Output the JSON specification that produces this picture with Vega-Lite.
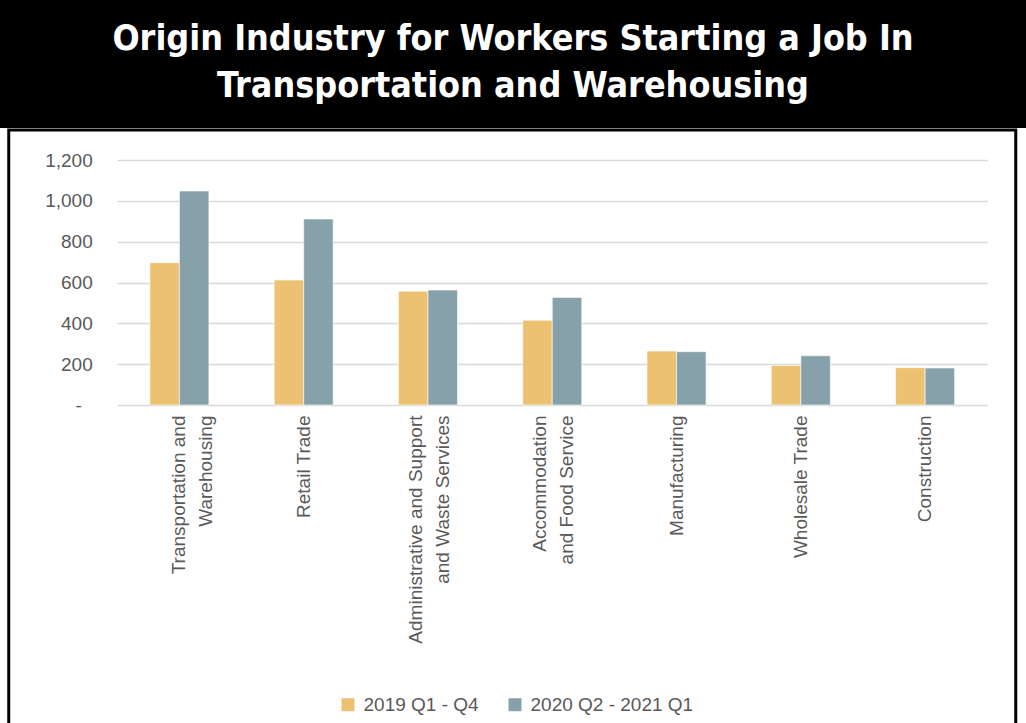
{
  "$schema": "https://vega.github.io/schema/vega-lite/v6.json",
  "background": "white",
  "padding": 0,
  "autosize": {"type": "pad"},
  "spacing": 0,
  "center": true,
  "config": {"view": {"stroke": null}, "font": "Liberation Sans"},
  "vconcat": [
    {
      "width": 1026,
      "height": 128,
      "view": {"fill": "black", "stroke": null},
      "data": {"values": [{}]},
      "mark": {
        "type": "text",
        "text": ["Origin Industry for Workers Starting a Job In", "Transportation and Warehousing"],
        "font": "DejaVu Sans Condensed",
        "fontWeight": "bold",
        "fontSize": 35.6,
        "lineHeight": 47,
        "color": "white",
        "align": "center",
        "baseline": "alphabetic",
        "dy": -14
      },
      "encoding": {}
    },
    {
      "width": 1007,
      "height": 600,
      "view": {"fill": "white", "stroke": "black", "strokeWidth": 3},
      "data": {
        "values": [
          {"industry": "Transportation and Warehousing", "period": "2019 Q1 - Q4", "workers": 697},
          {"industry": "Transportation and Warehousing", "period": "2020 Q2 - 2021 Q1", "workers": 1048},
          {"industry": "Retail Trade", "period": "2019 Q1 - Q4", "workers": 612},
          {"industry": "Retail Trade", "period": "2020 Q2 - 2021 Q1", "workers": 911},
          {"industry": "Administrative and Support and Waste Services", "period": "2019 Q1 - Q4", "workers": 557},
          {"industry": "Administrative and Support and Waste Services", "period": "2020 Q2 - 2021 Q1", "workers": 563},
          {"industry": "Accommodation and Food Service", "period": "2019 Q1 - Q4", "workers": 415},
          {"industry": "Accommodation and Food Service", "period": "2020 Q2 - 2021 Q1", "workers": 527},
          {"industry": "Manufacturing", "period": "2019 Q1 - Q4", "workers": 264},
          {"industry": "Manufacturing", "period": "2020 Q2 - 2021 Q1", "workers": 261},
          {"industry": "Wholesale Trade", "period": "2019 Q1 - Q4", "workers": 194},
          {"industry": "Wholesale Trade", "period": "2020 Q2 - 2021 Q1", "workers": 241},
          {"industry": "Construction", "period": "2019 Q1 - Q4", "workers": 183},
          {"industry": "Construction", "period": "2020 Q2 - 2021 Q1", "workers": 181}
        ]
      },
      "mark": {"type": "bar", "stroke": "white", "strokeWidth": 0.6},
      "encoding": {
        "x": {
          "field": "industry",
          "type": "nominal",
          "sort": null,
          "scale": {"range": [108.5, 978.5], "paddingInner": 0.525, "paddingOuter": 0.2625},
          "axis": {
            "orient": "bottom",
            "offset": -325,
            "title": null,
            "domain": false,
            "ticks": false,
            "grid": false,
            "labelAngle": 270,
            "labelPadding": 10,
            "labelFontSize": 19,
            "labelColor": "#595959",
            "labelLimit": 0,
            "labelLineHeight": 27,
            "labelOffset": {
              "condition": {"test": "datum.value == 'Administrative and Support and Waste Services' || datum.value == 'Accommodation and Food Service'", "value": -12},
              "value": 0
            },
            "labelExpr": "datum.label == 'Transportation and Warehousing' ? ['Transportation and', 'Warehousing'] : datum.label == 'Administrative and Support and Waste Services' ? ['Administrative and Support', 'and Waste Services'] : datum.label == 'Accommodation and Food Service' ? ['Accommodation', 'and Food Service'] : datum.label"
          }
        },
        "xOffset": {"field": "period", "type": "nominal", "sort": ["2019 Q1 - Q4", "2020 Q2 - 2021 Q1"]},
        "y": {
          "field": "workers",
          "type": "quantitative",
          "scale": {"domain": [0, 1200], "range": [275, 30], "nice": false, "zero": true},
          "axis": {
            "values": [0, 200, 400, 600, 800, 1000, 1200],
            "offset": -108.5,
            "title": null,
            "domain": false,
            "ticks": false,
            "labelPadding": {"condition": {"test": "datum.value == 0", "value": 36}, "value": 25},
            "labelFontSize": 19,
            "labelColor": "#595959",
            "labelExpr": "datum.value == 0 ? '-' : format(datum.value, ',')",
            "grid": true,
            "gridColor": "#d9d9d9",
            "gridWidth": 1.5
          }
        },
        "color": {
          "field": "period",
          "type": "nominal",
          "scale": {"domain": ["2019 Q1 - Q4", "2020 Q2 - 2021 Q1"], "range": ["#EDC172", "#87A1AB"]},
          "legend": {
            "orient": "none",
            "legendX": 338.5,
            "legendY": 695,
            "direction": "horizontal",
            "title": null,
            "symbolType": "square",
            "symbolSize": 169,
            "symbolStrokeWidth": 0,
            "labelFontSize": 19,
            "labelColor": "#595959",
            "labelLimit": 0,
            "columnPadding": 26,
            "labelOffset": 6
          }
        }
      }
    }
  ]
}
